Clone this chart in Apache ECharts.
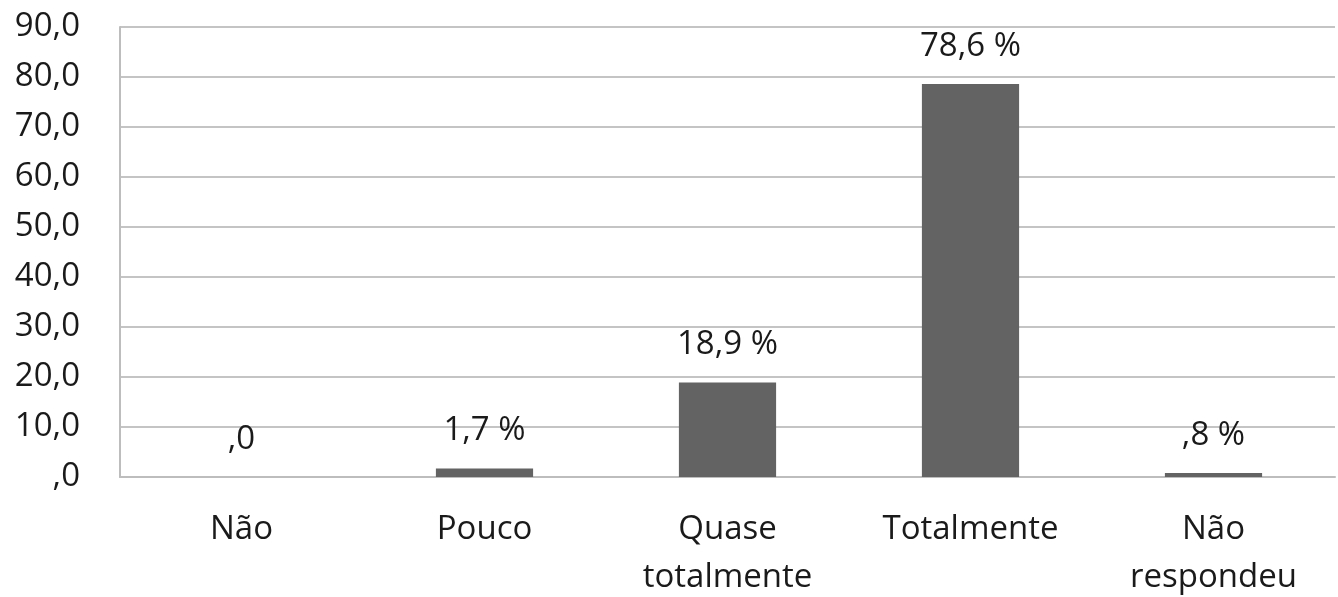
<!DOCTYPE html>
<html><head><meta charset="utf-8">
<script src="https://cdn.jsdelivr.net/npm/echarts@6/dist/echarts.min.js"></script>
<style>html,body{margin:0;padding:0;background:#fff}#c{width:1338px;height:597px}</style>
</head><body><div id="c"></div>
<script>
const categories = ['Não', 'Pouco', 'Quase\ntotalmente', 'Totalmente', 'Não\nrespondeu'];
const values = [0, 1.7, 18.9, 78.6, 0.8];
const valueLabels = [',0', '1,7 %', '18,9 %', '78,6 %', ',8 %'];
const yTickLabels = {0: ',0', 10: '10,0', 20: '20,0', 30: '30,0', 40: '40,0', 50: '50,0', 60: '60,0', 70: '70,0', 80: '80,0', 90: '90,0'};
const FONT = '"Open Sans", sans-serif';
const chart = echarts.init(document.getElementById('c'));
chart.setOption({
  animation: false,
  grid: {left: 120, right: 3, top: 27, bottom: 120, outerBoundsMode: 'none', containLabel: false},
  xAxis: {
    type: 'category', data: categories,
    axisLine: {lineStyle: {color: '#bdbdbd', width: 2}},
    axisTick: {show: false},
    axisLabel: {color: '#1a1a1a', fontSize: 33, fontFamily: FONT, margin: 29, lineHeight: 48}
  },
  yAxis: {
    type: 'value', min: 0, max: 90, interval: 10,
    axisLine: {show: true, lineStyle: {color: '#bdbdbd', width: 2}},
    axisTick: {show: false},
    splitLine: {lineStyle: {color: '#c4c4c4', width: 2}},
    axisLabel: {color: '#1a1a1a', fontSize: 33, fontFamily: FONT, margin: 40,
      formatter: v => yTickLabels[v]}
  },
  series: [{
    type: 'bar', data: values, barWidth: '40%',
    itemStyle: {color: '#636363'},
    label: {show: true, position: 'top', distance: 21, color: '#1a1a1a', fontSize: 33, fontFamily: FONT,
      formatter: p => valueLabels[p.dataIndex]}
  }]
});
</script></body></html>
